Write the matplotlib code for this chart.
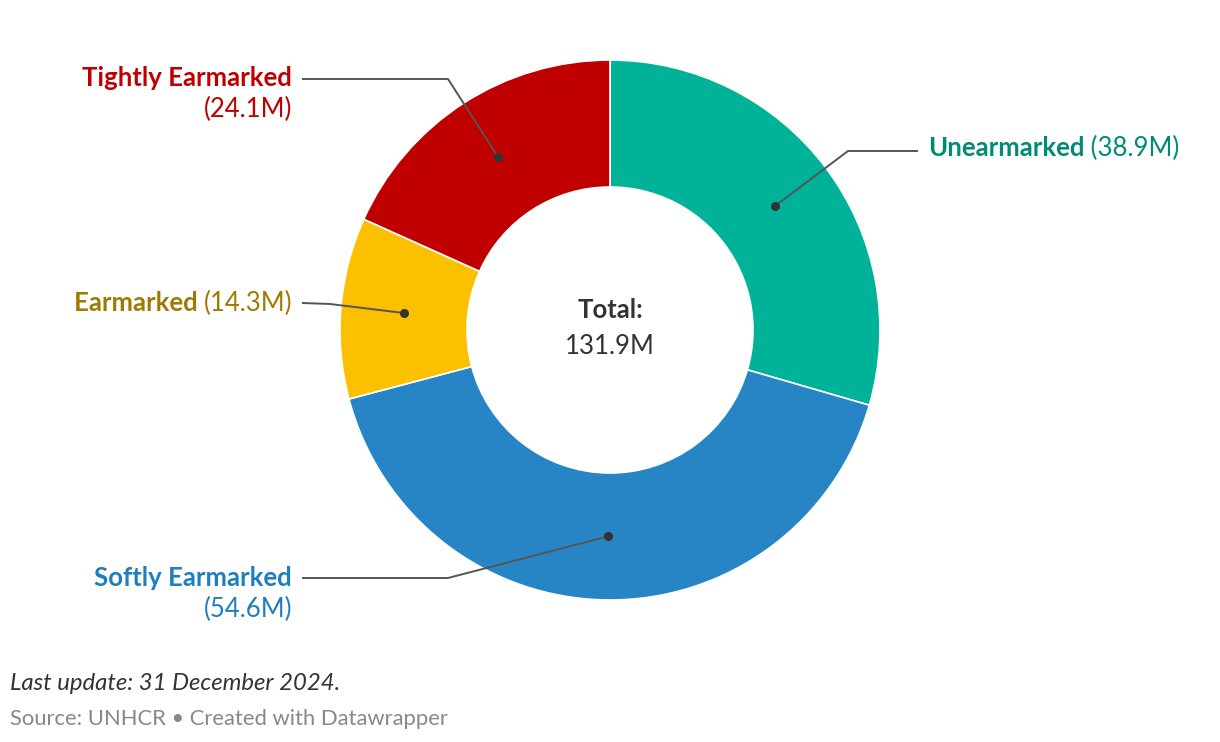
import numpy as np
import matplotlib
matplotlib.use("Agg")
import matplotlib.pyplot as plt

plt.rcParams['font.family'] = ['Lato', 'DejaVu Sans']

# data (clockwise from 12 o'clock)
categories = ["Unearmarked", "Softly Earmarked", "Earmarked", "Tightly Earmarked"]
values = [38.9, 54.6, 14.3, 24.1]
slice_colors = ["#00b398", "#2785c6", "#fbc000", "#c00000"]
label_colors = ["#008b74", "#1e7ec0", "#a07a00", "#c00000"]

W, H = 1220, 742
CX, CY = 610, 330          # donut centre (pixels from top-left)
R_OUT, R_IN = 270, 143


def Y(py):
    return H - py


fig = plt.figure(figsize=(W / 100, H / 100), dpi=100)
ax = fig.add_axes([0, 0, 1, 1])

ax.pie(values, colors=slice_colors, startangle=90, counterclock=False,
       center=(CX, Y(CY)), radius=R_OUT,
       wedgeprops=dict(width=R_OUT - R_IN, edgecolor="white", linewidth=1.2))
ax.set_xlim(0, W)
ax.set_ylim(0, H)
ax.set_aspect("equal")
ax.axis("off")

# anchor dots at the middle of each ring segment
total = sum(values)
r_mid = (R_OUT + R_IN) / 2
cum = np.cumsum([0] + values)
mid_frac = (cum[:-1] + cum[1:]) / 2 / total
theta = np.deg2rad(90 - 360 * mid_frac)
dot_x = CX + r_mid * np.cos(theta)
dot_y = Y(CY) + r_mid * np.sin(theta)

# leader lines: elbow point and end of horizontal part (pixel layout)
elbows = [(848, 151), (448, 578), (330, 304), (448, 79)]
ends = [(918, 151), (302, 578), (302, 303), (302, 79)]
for i in range(len(values)):
    ex, ey = elbows[i]
    hx, hy = ends[i]
    ax.plot([dot_x[i], ex, hx], [dot_y[i], Y(ey), Y(hy)],
            color="#555555", lw=1.4, solid_capstyle="butt", zorder=4)
    ax.scatter([dot_x[i]], [dot_y[i]], s=30, color="#333333", zorder=5)

FS = 18.5
fig.canvas.draw()
renderer = fig.canvas.get_renderer()


def width_px(t):
    return t.get_window_extent(renderer).width


# Unearmarked (one line, left of it the leader)
t = ax.text(928, Y(156), categories[0], color=label_colors[0], fontsize=FS,
            fontweight="bold", ha="left", va="baseline")
ax.text(928 + width_px(t), Y(156), " (%.1fM)" % values[0], color=label_colors[0],
        fontsize=FS, ha="left", va="baseline")

# Earmarked (one line, right-aligned)
t = ax.text(292, Y(311), "(%.1fM)" % values[2], color=label_colors[2], fontsize=FS,
            ha="right", va="baseline")
ax.text(292 - width_px(t), Y(311), categories[2] + " ", color=label_colors[2],
        fontsize=FS, fontweight="bold", ha="right", va="baseline")

# two-line labels
for i, (y1, y2) in [(3, (86, 117)), (1, (586, 617))]:
    ax.text(292, Y(y1), categories[i], color=label_colors[i], fontsize=FS,
            fontweight="bold", ha="right", va="baseline")
    ax.text(292, Y(y2), "(%.1fM)" % values[i], color=label_colors[i],
            fontsize=FS, ha="right", va="baseline")

# centre text
ax.text(CX, Y(318), "Total:", color="#333333", fontsize=FS, fontweight="bold",
        ha="center", va="baseline")
ax.text(CX, Y(354), "%.1fM" % total, color="#333333", fontsize=FS,
        ha="center", va="baseline")

# footer
ax.text(10, Y(690), "Last update: 31 December 2024.", color="#333333",
        fontsize=17.2, style="italic", ha="left", va="baseline")
ax.text(10, Y(725), "Source: UNHCR \u2022 Created with Datawrapper", color="#888888",
        fontsize=15.8, ha="left", va="baseline")

fig.savefig("out.png", dpi=100, facecolor="white")
